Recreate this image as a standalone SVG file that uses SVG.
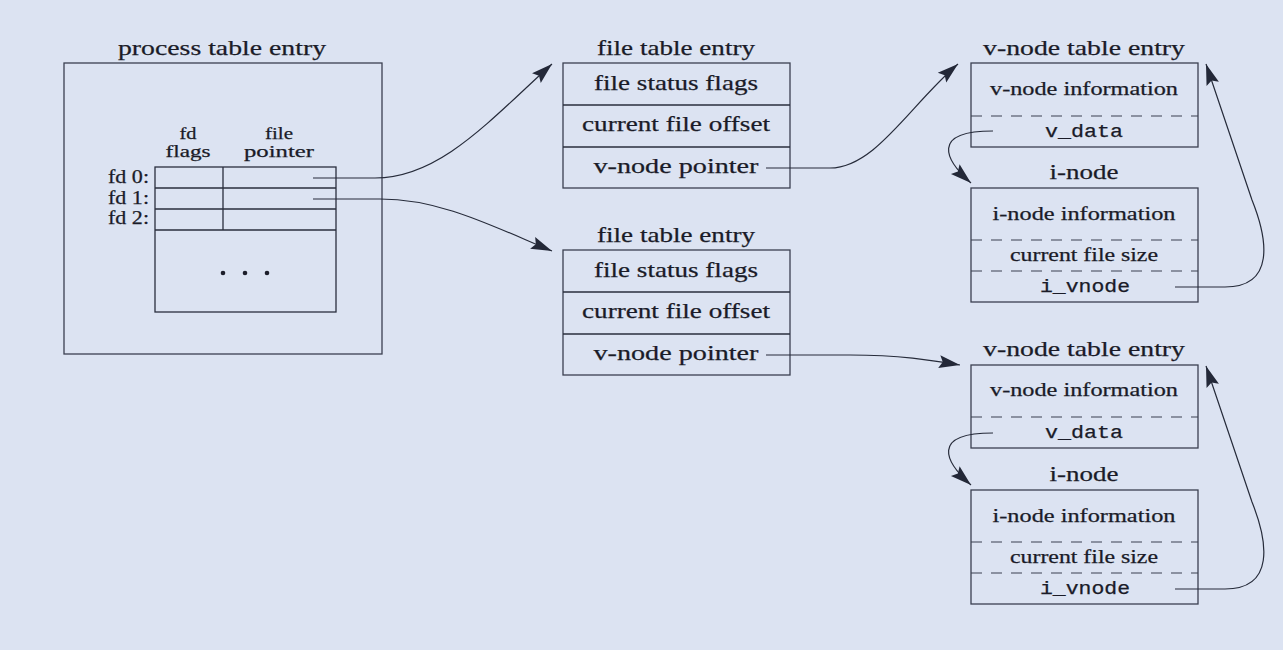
<svg xmlns="http://www.w3.org/2000/svg" width="1283" height="650" viewBox="0 0 1283 650">
<style>
  .bg{fill:#dce3f2}
  .box{fill:none;stroke:#3b4050;stroke-width:1.3}
  .ln{fill:none;stroke:#2a2f3e;stroke-width:1.3}
  .dash{fill:none;stroke:#3b4050;stroke-width:1.2;stroke-dasharray:11 9}
  .conn{fill:none;stroke:#262b3a;stroke-width:1.2}
  .t{font-family:"Liberation Serif","Times New Roman",serif;fill:#1a1b28;stroke:#1a1b28;stroke-width:0.25;text-anchor:middle}
  .big{font-size:22px}
  .mid{font-size:19px}
  .sm{font-size:17px}
  .m{font-family:"Liberation Mono","Courier New",monospace;fill:#1a1b28;stroke:#1a1b28;stroke-width:0.25;text-anchor:middle;font-size:18px}
  .r{text-anchor:end}
  .dot{fill:#1d1e2b}
</style>
<defs>
  <marker id="ah" viewBox="-22 -8 24 16" refX="0" refY="0" markerWidth="24" markerHeight="16" markerUnits="userSpaceOnUse" orient="auto">
    <path d="M0,0 L-21,-6.5 L-17.5,0 L-21,6.5 Z" fill="#232838"/>
  </marker>
</defs>
<rect class="bg" x="0" y="0" width="1283" height="650"/>

<g id="process-table">
  <text class="t big" x="222" y="55" textLength="208" lengthAdjust="spacingAndGlyphs">process table entry</text>
  <rect class="box" x="64" y="63" width="318" height="291"/>
  <text class="t sm" x="188" y="139" textLength="17" lengthAdjust="spacingAndGlyphs">fd</text>
  <text class="t sm" x="188" y="157" textLength="45" lengthAdjust="spacingAndGlyphs">flags</text>
  <text class="t sm" x="279" y="139" textLength="28" lengthAdjust="spacingAndGlyphs">file</text>
  <text class="t sm" x="279" y="157" textLength="70" lengthAdjust="spacingAndGlyphs">pointer</text>
  <text class="t mid r" x="149" y="183" textLength="41" lengthAdjust="spacingAndGlyphs">fd 0:</text>
  <text class="t mid r" x="149" y="204" textLength="41" lengthAdjust="spacingAndGlyphs">fd 1:</text>
  <text class="t mid r" x="149" y="224" textLength="41" lengthAdjust="spacingAndGlyphs">fd 2:</text>
  <rect class="ln" x="155" y="167" width="181" height="145"/>
  <path class="ln" d="M155,188 H336 M155,209 H336 M155,230 H336 M223,167 V230"/>
  <circle class="dot" cx="223" cy="273" r="2.3"/>
  <circle class="dot" cx="245" cy="273" r="2.3"/>
  <circle class="dot" cx="267" cy="273" r="2.3"/>
</g>

<g id="file-table-1">
  <text class="t big" x="676" y="55" textLength="158" lengthAdjust="spacingAndGlyphs">file table entry</text>
  <rect class="box" x="563" y="63" width="227" height="125"/>
  <path class="ln" d="M563,105 H790 M563,147 H790"/>
  <text class="t big" x="676" y="89.5" textLength="164" lengthAdjust="spacingAndGlyphs">file status flags</text>
  <text class="t big" x="676" y="131" textLength="188" lengthAdjust="spacingAndGlyphs">current file offset</text>
  <text class="t big" x="676" y="172.5" textLength="165" lengthAdjust="spacingAndGlyphs">v-node pointer</text>
</g>

<g id="file-table-2">
  <text class="t big" x="676" y="242" textLength="158" lengthAdjust="spacingAndGlyphs">file table entry</text>
  <rect class="box" x="563" y="250" width="227" height="125"/>
  <path class="ln" d="M563,292 H790 M563,334 H790"/>
  <text class="t big" x="676" y="276.5" textLength="164" lengthAdjust="spacingAndGlyphs">file status flags</text>
  <text class="t big" x="676" y="318" textLength="188" lengthAdjust="spacingAndGlyphs">current file offset</text>
  <text class="t big" x="676" y="359.5" textLength="165" lengthAdjust="spacingAndGlyphs">v-node pointer</text>
</g>

<g id="vnode-table-1">
  <text class="t big" x="1084" y="55" textLength="202" lengthAdjust="spacingAndGlyphs">v-node table entry</text>
  <rect class="box" x="971" y="63" width="227" height="84"/>
  <path class="dash" d="M971,116 H1198"/>
  <text class="t mid" x="1084" y="95" textLength="188" lengthAdjust="spacingAndGlyphs">v-node information</text>
  <text class="m" x="1084" y="137" textLength="78" lengthAdjust="spacingAndGlyphs">v_data</text>
</g>

<g id="inode-1">
  <text class="t big" x="1084" y="179" textLength="69" lengthAdjust="spacingAndGlyphs">i-node</text>
  <rect class="box" x="971" y="188" width="227" height="114"/>
  <path class="dash" d="M971,240 H1198 M971,271 H1198"/>
  <text class="t mid" x="1084" y="220" textLength="183" lengthAdjust="spacingAndGlyphs">i-node information</text>
  <text class="t mid" x="1084" y="261" textLength="148" lengthAdjust="spacingAndGlyphs">current file size</text>
  <text class="m" x="1085" y="292" textLength="90" lengthAdjust="spacingAndGlyphs">i_vnode</text>
</g>

<g id="vnode-table-2">
  <text class="t big" x="1084" y="356" textLength="202" lengthAdjust="spacingAndGlyphs">v-node table entry</text>
  <rect class="box" x="971" y="365" width="227" height="83"/>
  <path class="dash" d="M971,417 H1198"/>
  <text class="t mid" x="1084" y="396" textLength="188" lengthAdjust="spacingAndGlyphs">v-node information</text>
  <text class="m" x="1084" y="438" textLength="78" lengthAdjust="spacingAndGlyphs">v_data</text>
</g>

<g id="inode-2">
  <text class="t big" x="1084" y="481" textLength="69" lengthAdjust="spacingAndGlyphs">i-node</text>
  <rect class="box" x="971" y="490" width="227" height="114"/>
  <path class="dash" d="M971,542 H1198 M971,573 H1198"/>
  <text class="t mid" x="1084" y="522" textLength="183" lengthAdjust="spacingAndGlyphs">i-node information</text>
  <text class="t mid" x="1084" y="563" textLength="148" lengthAdjust="spacingAndGlyphs">current file size</text>
  <text class="m" x="1085" y="594" textLength="90" lengthAdjust="spacingAndGlyphs">i_vnode</text>
</g>

<g id="connectors">
  <path class="conn" marker-end="url(#ah)" d="M313,178 L375,178 C440,178 490,120 552,64"/>
  <path class="conn" marker-end="url(#ah)" d="M313,199 L380,199 C440,199 490,225 552,251"/>
  <path class="conn" marker-end="url(#ah)" d="M766,168 L830,168 C875,168 910,105 958,64"/>
  <path class="conn" marker-end="url(#ah)" d="M766,355 L850,355 C900,355 930,360 960,365"/>
  <path class="conn" marker-end="url(#ah)" d="M993,131 C930,131 945,160 971,183"/>
  <path class="conn" marker-end="url(#ah)" d="M1175,287 L1225,287 C1275,287 1268,240 1252,200 L1206,64"/>
  <path class="conn" marker-end="url(#ah)" d="M993,433 C930,433 945,462 971,485"/>
  <path class="conn" marker-end="url(#ah)" d="M1175,589 L1225,589 C1275,589 1268,542 1252,502 L1206,366"/>
</g>
</svg>
